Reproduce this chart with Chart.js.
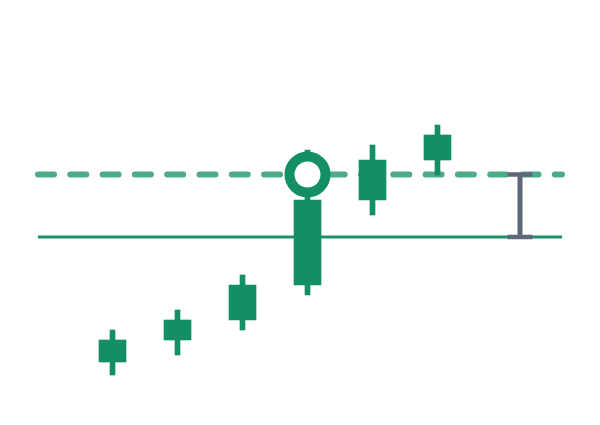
<!DOCTYPE html>
<html>
<head>
<meta charset="utf-8">
<script src="https://cdn.jsdelivr.net/npm/chart.js@4/dist/chart.umd.min.js"></script>
<style>
  html, body { margin: 0; padding: 0; background: #ffffff; }
  #chart { display: block; }
</style>
</head>
<body>
<canvas id="chart" width="600" height="425"></canvas>
<script>
// posições dos candles (eixo x) e valores
const posicoes = [11.25, 17.75, 24.25, 30.75, 37.25, 43.75];
const minimos  = [-13.8, -11.8, -9.3, -5.8, 2.2, 6.2];
const maximos  = [-9.3, -7.3, -3.8, 8.7, 9.2, 11.2];
const aberturas = [-12.5, -10.3, -8.3, -4.8, 3.7, 7.7];
const fechamentos = [-10.3, -8.3, -4.8, 3.7, 7.7, 10.2];

// linhas de referência
const linhaInicio = 3.8;
const linhaFim = 56.2;
const valorMeta = 6.25;
const valorBase = 0;

// destaque (anel) e barra de erro
const destaqueX = 30.75;
const destaqueY = 6.25;
const erroX = 52;
const erroMin = 0;
const erroMax = 6.25;

const verde = '#148f63';

const pavios = posicoes.map((x, i) => ({ x: x, y: [minimos[i], maximos[i]] }));
const corpos = posicoes.map((x, i) => ({ x: x, y: [aberturas[i], fechamentos[i]] }));

const ctx = document.getElementById('chart').getContext('2d');
new Chart(ctx, {
    data: {
        datasets: [{
            type: 'line',
            label: 'Meta',
            data: [{ x: linhaInicio, y: valorMeta }, { x: linhaFim, y: valorMeta }],
            borderColor: '#4dab87',
            borderWidth: 6,
            borderDash: [16, 16.3],
            borderCapStyle: 'round',
            pointRadius: 0,
            order: 10
        }, {
            type: 'line',
            label: 'Base',
            data: [{ x: linhaInicio, y: valorBase }, { x: linhaFim, y: valorBase }],
            borderColor: '#1f9068',
            borderWidth: 3,
            pointRadius: 0,
            order: 9
        }, {
            type: 'bar',
            label: 'Pavio',
            data: pavios,
            backgroundColor: verde,
            barThickness: 5,
            grouped: false,
            order: 8
        }, {
            type: 'bar',
            label: 'Corpo',
            data: corpos,
            backgroundColor: verde,
            barThickness: 27,
            grouped: false,
            order: 7
        }, {
            type: 'scatter',
            label: 'Destaque',
            data: [{ x: destaqueX, y: destaqueY }],
            pointStyle: 'circle',
            pointRadius: 18,
            pointBorderWidth: 10,
            pointBorderColor: verde,
            pointBackgroundColor: '#ffffff',
            order: 6
        }, {
            type: 'line',
            label: 'Erro',
            data: [{ x: erroX, y: erroMin }, { x: erroX, y: erroMax }],
            borderColor: '#5f6878',
            borderWidth: 5,
            pointStyle: 'line',
            pointRadius: 12.5,
            pointBorderWidth: 4.5,
            pointBorderColor: '#5f6878',
            order: 5
        }]
    },
    options: {
        responsive: false,
        animation: false,
        layout: { padding: 0, autoPadding: false },
        plugins: {
            legend: { display: false },
            tooltip: { enabled: false }
        },
        scales: {
            x: {
                type: 'linear',
                min: 0,
                max: 60,
                offset: false,
                display: false
            },
            y: {
                type: 'linear',
                min: -18.8,
                max: 23.7,
                display: false
            }
        }
    }
});
</script>
</body>
</html>
